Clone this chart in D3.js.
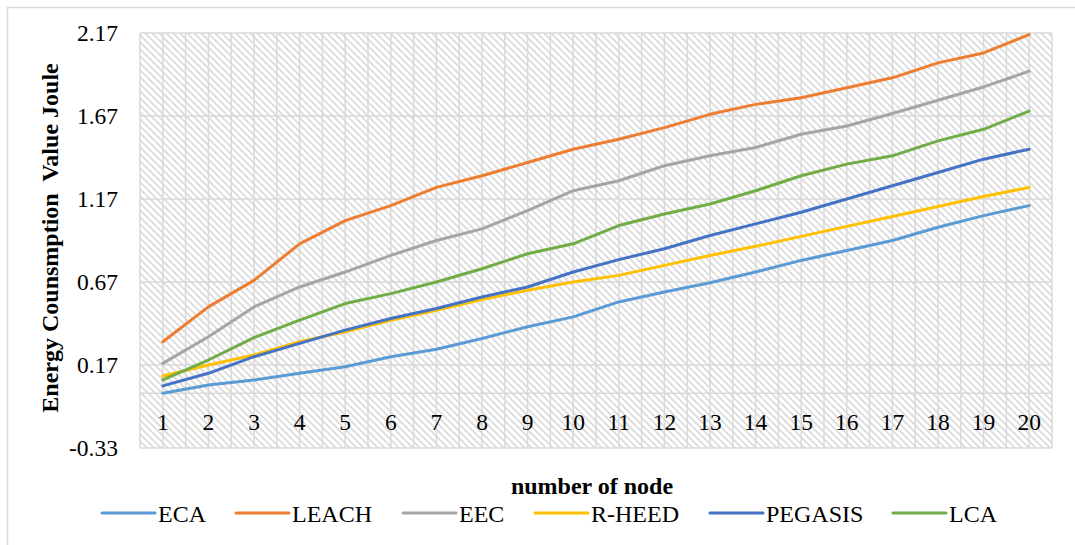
<!DOCTYPE html>
<html>
<head>
<meta charset="utf-8">
<script src="https://cdn.jsdelivr.net/npm/d3@7"></script>
<style>
  html, body { margin: 0; padding: 0; background: #fff; }
  svg { display: block; }
  text { font-family: "Liberation Serif", "Times New Roman", serif; fill: #000; }
</style>
</head>
<body>
<svg id="chart" width="1075" height="545"></svg>
<script>
// Energy consumption per protocol, by number of nodes
const nodes = d3.range(1, 21).map(String);
const yTicks = [-0.33, 0.17, 0.67, 1.17, 1.67, 2.17];

const ECA     = [0.00, 0.05, 0.08, 0.12, 0.16, 0.22, 0.265, 0.33, 0.40, 0.46, 0.55, 0.61, 0.665, 0.73, 0.80, 0.86, 0.92, 1.00, 1.07, 1.13];
const LEACH   = [0.31, 0.52, 0.68, 0.90, 1.04, 1.13, 1.24, 1.31, 1.39, 1.47, 1.53, 1.60, 1.68, 1.74, 1.78, 1.84, 1.90, 1.99, 2.05, 2.16];
const EEC     = [0.18, 0.34, 0.52, 0.64, 0.73, 0.83, 0.92, 0.99, 1.10, 1.22, 1.28, 1.37, 1.43, 1.48, 1.56, 1.61, 1.685, 1.765, 1.845, 1.94];
const RHEED   = [0.104, 0.17, 0.23, 0.31, 0.37, 0.44, 0.50, 0.565, 0.62, 0.67, 0.71, 0.77, 0.83, 0.885, 0.945, 1.005, 1.065, 1.125, 1.185, 1.24];
const PEGASIS = [0.044, 0.12, 0.22, 0.30, 0.38, 0.45, 0.51, 0.58, 0.64, 0.73, 0.805, 0.87, 0.95, 1.02, 1.09, 1.17, 1.25, 1.33, 1.41, 1.47];
const LCA     = [0.08, 0.20, 0.335, 0.44, 0.54, 0.60, 0.67, 0.75, 0.84, 0.90, 1.01, 1.08, 1.14, 1.22, 1.31, 1.38, 1.43, 1.52, 1.59, 1.70];

const seriesNames  = ["ECA", "LEACH", "EEC", "R-HEED", "PEGASIS", "LCA"];
const seriesValues = [ECA, LEACH, EEC, RHEED, PEGASIS, LCA];
const seriesColors = ["#5B9BD5", "#ED7D31", "#A5A5A5", "#FFC000", "#4472C4", "#70AD47"];

const svg = d3.select("#chart");
const W = 1075, H = 545;
const plot = { left: 140, right: 1052, top: 33, bottom: 448 };
const FONT = "Liberation Serif";

// outer chart frame
svg.append("rect")
  .attr("x", 7.5).attr("y", 7.5)
  .attr("width", W + 10).attr("height", H + 10)
  .attr("fill", "#fff").attr("stroke", "#d9d9d9").attr("stroke-width", 1.5);

// diagonal hatch for the plot area
const defs = svg.append("defs");
const P = 7;
const pat = defs.append("pattern")
  .attr("id", "hatch").attr("patternUnits", "userSpaceOnUse")
  .attr("width", P).attr("height", P);
pat.append("rect").attr("width", P).attr("height", P).attr("fill", "#fff");
pat.append("path")
  .attr("d", `M-2,-2 L${P + 2},${P + 2} M-2,${P - 2} L2,${P + 2} M${P - 2},-2 L${P + 2},2`)
  .attr("stroke", "#dadada").attr("stroke-width", 1.6);

const x = d3.scaleBand().domain(nodes).range([plot.left, plot.right]);
const y = d3.scaleLinear().domain([-0.33, 2.17]).range([plot.bottom, plot.top]);

svg.append("rect")
  .attr("x", plot.left).attr("y", plot.top)
  .attr("width", plot.right - plot.left).attr("height", plot.bottom - plot.top)
  .attr("fill", "url(#hatch)");

const grid = svg.append("g").attr("stroke", "#d9d9d9").attr("stroke-width", 1.5);

// vertical grid lines at band edges and band centres
const vLines = [];
nodes.forEach(n => { vLines.push(x(n)); vLines.push(x(n) + x.bandwidth() / 2); });
vLines.push(plot.right);
grid.selectAll("line.v").data(vLines).join("line")
  .attr("class", "v")
  .attr("x1", d => d).attr("x2", d => d)
  .attr("y1", plot.top).attr("y2", plot.bottom);

// horizontal grid lines at value ticks, plus the zero line
grid.selectAll("line.h").data(yTicks.concat([0])).join("line")
  .attr("class", "h")
  .attr("x1", plot.left).attr("x2", plot.right)
  .attr("y1", d => y(d)).attr("y2", d => y(d));

// y axis labels
const yAxis = d3.axisLeft(y).tickValues(yTicks).tickFormat(d => d.toFixed(2)).tickSize(0).tickPadding(22);
const gy = svg.append("g").attr("transform", `translate(${plot.left},0)`).call(yAxis);
gy.select(".domain").remove();
gy.selectAll("text").attr("font-size", 23.5).attr("font-family", FONT);

// x axis labels along the zero line
const xAxis = d3.axisBottom(x).tickSize(0).tickPadding(20);
const gx = svg.append("g").attr("transform", `translate(0,${y(0)})`).call(xAxis);
gx.select(".domain").remove();
gx.selectAll("text").attr("font-size", 23.5).attr("font-family", FONT);

// series lines
const line = d3.line()
  .x((d, i) => x(nodes[i]) + x.bandwidth() / 2)
  .y(d => y(d));

svg.append("g").selectAll("path")
  .data(seriesValues).join("path")
  .attr("d", d => line(d))
  .attr("fill", "none")
  .attr("stroke", (d, i) => seriesColors[i])
  .attr("stroke-width", 3)
  .attr("stroke-linejoin", "round")
  .attr("stroke-linecap", "round");

// axis titles
svg.append("text")
  .attr("transform", "translate(58,238) rotate(-90)")
  .attr("text-anchor", "middle")
  .attr("font-size", 24).attr("font-weight", "bold")
  .attr("xml:space", "preserve")
  .style("white-space", "pre")
  .text("Energy Counsmption  Value Joule");

svg.append("text")
  .attr("x", 592).attr("y", 494)
  .attr("text-anchor", "middle")
  .attr("font-size", 24).attr("font-weight", "bold")
  .text("number of node");

// legend
const legendX = [102, 236, 403, 535, 710, 893];
const lg = svg.append("g");
seriesNames.forEach((name, i) => {
  const g = lg.append("g").attr("transform", `translate(${legendX[i]},513)`);
  g.append("line")
    .attr("x1", 0).attr("x2", 53).attr("y1", 0).attr("y2", 0)
    .attr("stroke", seriesColors[i]).attr("stroke-width", 3).attr("stroke-linecap", "round");
  g.append("text")
    .attr("x", 56).attr("y", 9)
    .attr("font-size", 24)
    .text(name);
});
</script>
</body>
</html>
